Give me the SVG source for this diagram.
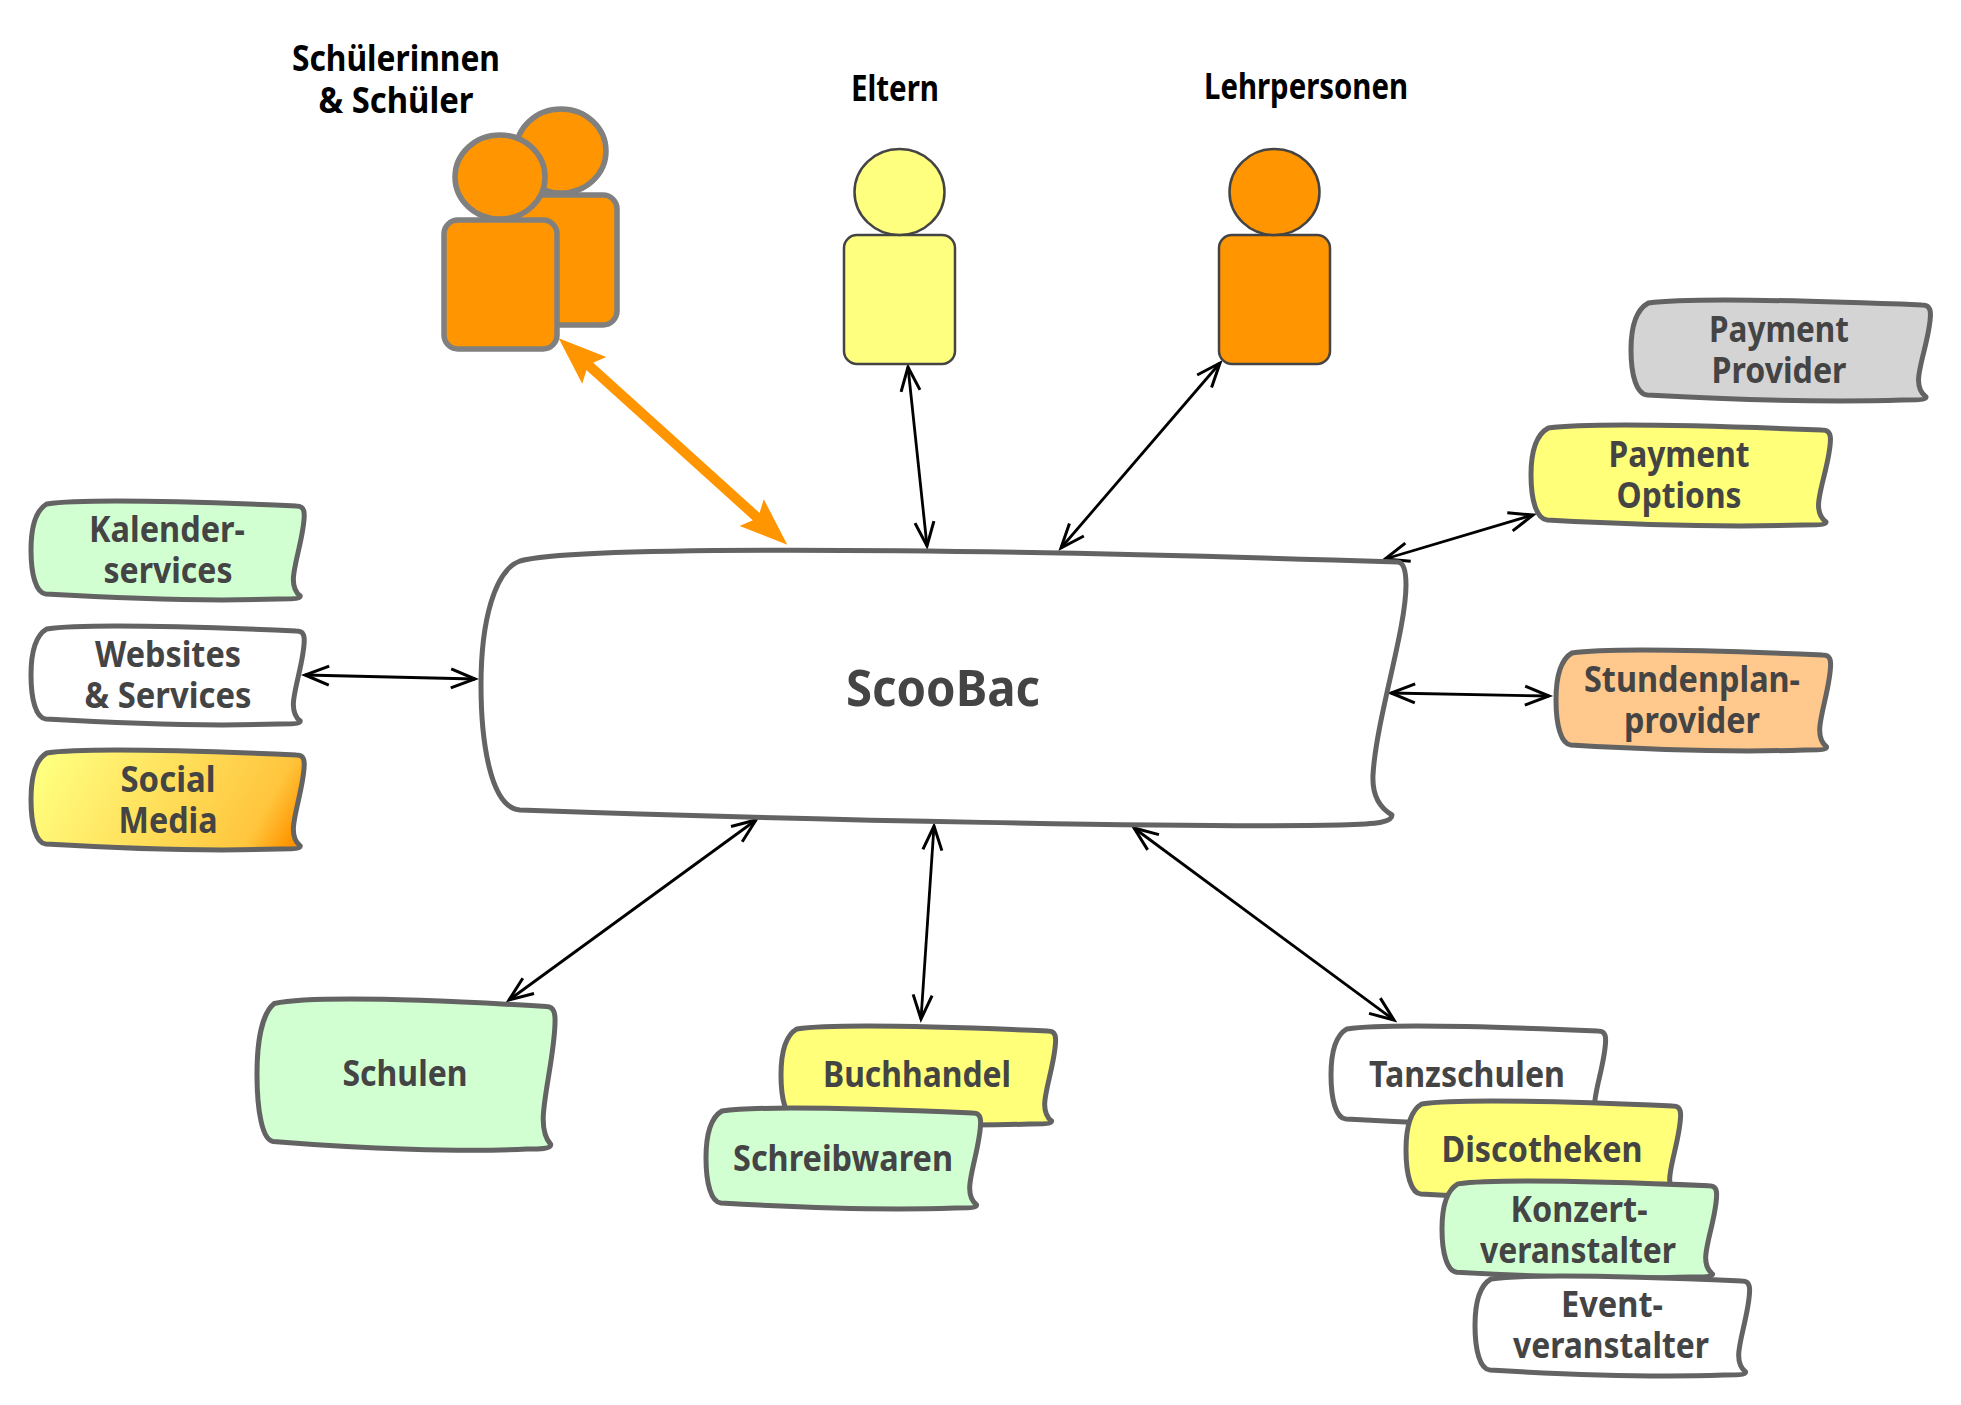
<svg xmlns="http://www.w3.org/2000/svg" xmlns:xlink="http://www.w3.org/1999/xlink" width="1961" height="1405" viewBox="0 0 1961 1405">
<style>
text{font-family:"Noto Sans","Open Sans","Liberation Sans",sans-serif;font-weight:700;font-size:36px;text-anchor:middle;fill:#444}
.h{fill:#000}
.big{font-size:50px}
.tape{stroke:#636363;stroke-width:5;stroke-linejoin:round;vector-effect:non-scaling-stroke}
.thin{stroke:#000;stroke-width:2.8;fill:none;marker-start:url(#a);marker-end:url(#a)}
.thick{stroke:#ff9500;stroke-width:10;fill:none;marker-start:url(#b);marker-end:url(#b)}
.p1 ellipse,.p1 rect{fill:#ff9500;stroke:#808080;stroke-width:5.5}
.p2 ellipse,.p2 rect{stroke:#444;stroke-width:2.5}
</style>
<defs>
<linearGradient id="g" gradientUnits="userSpaceOnUse" x1="20" y1="0" x2="245" y2="125"><stop offset="0" stop-color="#ffff7f"/><stop offset=".85" stop-color="#ffc53d"/><stop offset="1" stop-color="#ff9500"/></linearGradient>
<path id="tape" class="tape" d="M16,3C50,-2 150,0 268,5C274,5 276,8 276,14C276,35 265,65 265,80C265,88 267,93 272,97C272,100 262,100 250,100C190,102 100,100 15,95C5,94 0,75 0,50C0,30 4,10 16,3Z"/>
<marker id="a" markerUnits="userSpaceOnUse" orient="auto-start-reverse" markerWidth="60" markerHeight="40" viewBox="-40 -20 60 40" refX="0" refY="0" overflow="visible"><path d="M-24,-9.500L0,0L-24,9.500" fill="none" stroke="#000" stroke-width="3"/></marker>
<marker id="b" markerUnits="userSpaceOnUse" orient="auto-start-reverse" markerWidth="80" markerHeight="60" viewBox="-40 -30 80 60" refX="0" refY="0" overflow="visible"><path d="M22,0L-26,-18L-20,-5L-20,5L-26,18Z" fill="#ff9500"/></marker>
</defs>
<rect width="1961" height="1405" fill="#fff"/>

<g id="connectors">
<line class="thick" x1="575" y1="353" x2="771" y2="530"/>
<line class="thin" x1="908" y1="367" x2="927" y2="546"/>
<line class="thin" x1="1220" y1="363" x2="1061" y2="548"/>
<line class="thin" x1="1533" y1="515" x2="1385" y2="559"/>
<line class="thin" x1="1391" y1="693" x2="1549" y2="696"/>
<line class="thin" x1="305" y1="675" x2="475" y2="679"/>
<line class="thin" x1="756" y1="820" x2="509" y2="1000"/>
<line class="thin" x1="934" y1="826" x2="921" y2="1019"/>
<line class="thin" x1="1134" y1="828" x2="1394" y2="1020"/>
</g>

<g id="n-schueler" class="p1">
<rect x="503" y="195" width="114" height="130" rx="14"/>
<ellipse cx="561" cy="151" rx="45" ry="42"/>
<rect x="444" y="220" width="113" height="129" rx="14"/>
<ellipse cx="500" cy="177" rx="45" ry="42"/>
<text class="h" x="396" y="71" textLength="208" lengthAdjust="spacingAndGlyphs">Schülerinnen</text>
<text class="h" x="396" y="113" textLength="155" lengthAdjust="spacingAndGlyphs">&amp; Schüler</text>
</g>
<g id="n-eltern" class="p2">
<rect x="844" y="235" width="111" height="129" rx="13" fill="#ffff7f"/>
<ellipse cx="899.500" cy="192" rx="45" ry="43" fill="#ffff7f"/>
<text class="h" x="895" y="101" textLength="88" lengthAdjust="spacingAndGlyphs">Eltern</text>
</g>
<g id="n-lehr" class="p2">
<rect x="1219" y="235" width="111" height="129" rx="13" fill="#ff9500"/>
<ellipse cx="1274.500" cy="192" rx="45" ry="43" fill="#ff9500"/>
<text class="h" x="1306" y="99" textLength="204" lengthAdjust="spacingAndGlyphs">Lehrpersonen</text>
</g>

<g id="n-main">
<path class="tape" fill="#fff" d="M520,561C570,547 900,546 1398,562Q1406,563 1406,585C1406,630 1376,720 1373,775C1372,795 1380,808 1392,815C1392,822 1380,824 1340,825C1200,828 800,820 520,810C490,808 481,740 481,685C481,620 495,570 520,561Z"/>
<text class="big" x="943" y="706" textLength="194" lengthAdjust="spacingAndGlyphs">ScooBac</text>
</g>

<g id="n-pprovider">
<use href="#tape" fill="#d4d4d4" transform="translate(1631,300) scale(1.085,1)"/>
<text x="1779" y="342" textLength="140" lengthAdjust="spacingAndGlyphs">Payment</text>
<text x="1779" y="383" textLength="135" lengthAdjust="spacingAndGlyphs">Provider</text>
</g>
<g id="n-poptions">
<use href="#tape" fill="#ffff7a" transform="translate(1531,425) scale(1.085,1)"/>
<text x="1679" y="467" textLength="141" lengthAdjust="spacingAndGlyphs">Payment</text>
<text x="1679" y="508" textLength="125" lengthAdjust="spacingAndGlyphs">Options</text>
</g>
<g id="n-stunden">
<use href="#tape" fill="#ffc88c" transform="translate(1556,650) scale(.995,1)"/>
<text x="1692" y="692" textLength="216" lengthAdjust="spacingAndGlyphs">Stundenplan-</text>
<text x="1692" y="733" textLength="136" lengthAdjust="spacingAndGlyphs">provider</text>
</g>

<g id="n-kalender">
<use href="#tape" fill="#d2ffd2" transform="translate(31,501) scale(.99,.98)"/>
<text x="167" y="542" textLength="156" lengthAdjust="spacingAndGlyphs">Kalender-</text>
<text x="168" y="583" textLength="129" lengthAdjust="spacingAndGlyphs">services</text>
</g>
<g id="n-websites">
<use href="#tape" fill="#fff" transform="translate(31,626) scale(.99,.98)"/>
<text x="168" y="667" textLength="146" lengthAdjust="spacingAndGlyphs">Websites</text>
<text x="168" y="708" textLength="167" lengthAdjust="spacingAndGlyphs">&amp; Services</text>
</g>
<g id="n-social">
<use href="#tape" fill="url(#g)" transform="translate(31,750) scale(.99,.99)"/>
<text x="168" y="792" textLength="95" lengthAdjust="spacingAndGlyphs">Social</text>
<text x="168" y="833" textLength="99" lengthAdjust="spacingAndGlyphs">Media</text>
</g>

<g id="n-schulen">
<use href="#tape" fill="#d2ffd2" transform="translate(257,999) scale(1.08,1.5)"/>
<text x="405" y="1086" textLength="125" lengthAdjust="spacingAndGlyphs">Schulen</text>
</g>
<g id="n-buch">
<use href="#tape" fill="#ffff7a" transform="translate(781,1026) scale(.995,.98)"/>
<text x="917" y="1087" textLength="188" lengthAdjust="spacingAndGlyphs">Buchhandel</text>
</g>
<g id="n-schreib">
<use href="#tape" fill="#d2ffd2" transform="translate(706,1108) scale(.995,1)"/>
<text x="843" y="1171" textLength="220" lengthAdjust="spacingAndGlyphs">Schreibwaren</text>
</g>

<g id="n-tanz">
<use href="#tape" fill="#fff" transform="translate(1331,1026) scale(.995,.98)"/>
<text x="1467" y="1087" textLength="196" lengthAdjust="spacingAndGlyphs">Tanzschulen</text>
</g>
<g id="n-disco">
<use href="#tape" fill="#ffff7a" transform="translate(1406,1101) scale(.995,.98)"/>
<text x="1542" y="1162" textLength="201" lengthAdjust="spacingAndGlyphs">Discotheken</text>
</g>
<g id="n-konzert">
<use href="#tape" fill="#d2ffd2" transform="translate(1442,1181) scale(.995,.96)"/>
<text x="1579" y="1222" textLength="137" lengthAdjust="spacingAndGlyphs">Konzert-</text>
<text x="1578" y="1263" textLength="196" lengthAdjust="spacingAndGlyphs">veranstalter</text>
</g>
<g id="n-event">
<use href="#tape" fill="#fff" transform="translate(1475,1276) scale(.995,.99)"/>
<text x="1612" y="1317" textLength="102" lengthAdjust="spacingAndGlyphs">Event-</text>
<text x="1611" y="1358" textLength="196" lengthAdjust="spacingAndGlyphs">veranstalter</text>
</g>
</svg>
